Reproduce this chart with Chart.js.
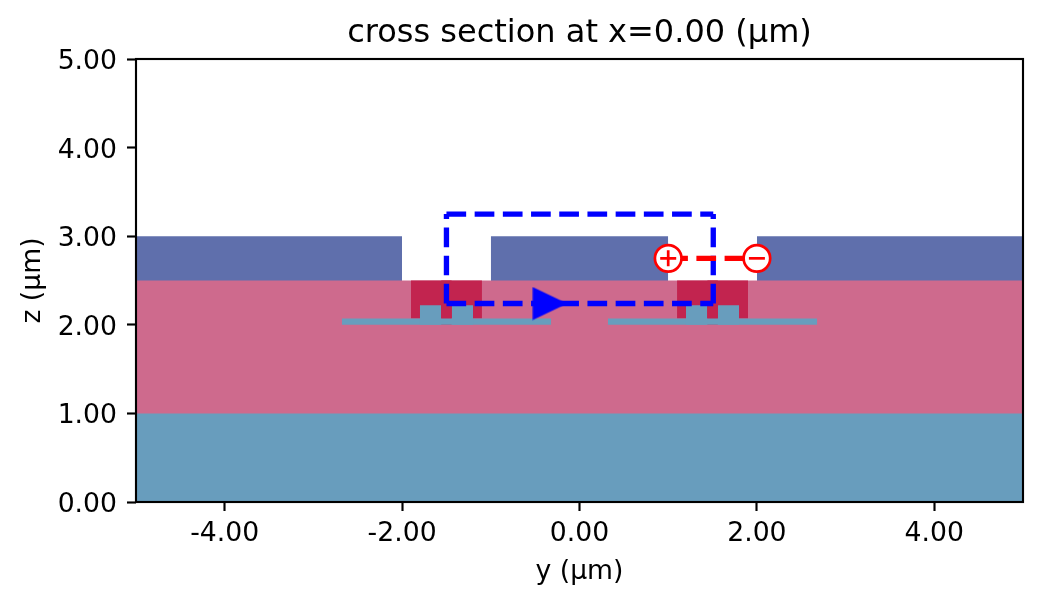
<!DOCTYPE html>
<html><head><meta charset="utf-8">
<style>html,body{margin:0;padding:0;background:#fff}#w{width:1042px;height:605px;position:relative}</style>
<script src="https://cdn.jsdelivr.net/npm/chart.js@4"></script></head>
<body><div id="w"><canvas id="c" width="1042" height="605"></canvas></div>
<script>
const xTickValues=[-4,-2,0,2,4];
const yTickValues=[0,1,2,3,4,5];
// rectangles: [y0,y1,z0,z1]
const substrate=[[-5,5,0,1]];
const cladding=[[-5,5,0.9,2.5]];
const topLayer=[[-5,-2,2.4,3],[-1,1,2.4,3],[2,5,2.4,3]];
const crimsonBody=[[-1.9,-1.1,2.07,2.5],[-1.56,-1.44,2,2.5],[1.1,1.9,2.07,2.5],[1.44,1.56,2,2.5]];
const slabs=[[-2.68,-0.32,2,2.07],[0.32,2.68,2,2.07]];
const ribs=[[-1.8,-1.56,2,2.22],[-1.44,-1.2,2,2.22],[1.2,1.44,2,2.22],[1.56,1.8,2,2.22]];
const currentPaths=[
 [[-1.5,2.24],[1.508,2.24]],
 [[1.508,2.24],[1.508,3.25]],
 [[-1.5,3.25],[1.508,3.25]],
 [[-1.5,2.24],[-1.5,3.25]]];
const currentArrow=[[-0.33,2.24]];
const voltagePath=[[1,2.75],[2,2.75]];
const plusPoint=[[1,2.75]];
const minusPoint=[[2,2.75]];
const colors={teal:'#689DBD',pink:'#CE6A8D',blue:'#5F6FAC',crimson:'#C2244F'};

function rectSets(list,color){
  return list.map(r=>({data:[{x:r[0],y:r[3]},{x:r[1],y:r[3]}],showLine:true,borderWidth:0,pointRadius:0,
    backgroundColor:color,fill:{value:r[2]},tension:0}));
}
const arrowCanvas=document.createElement('canvas');
arrowCanvas.width=36;arrowCanvas.height=34;
{const g=arrowCanvas.getContext('2d');g.fillStyle='#0000ff';g.beginPath();g.moveTo(0.5,0.5);g.lineTo(35,17);g.lineTo(0.5,33.5);g.closePath();g.fill();}

const datasets=[
 {data:plusPoint.map(p=>({x:p[0],y:p[1]})),pointStyle:'cross',pointRadius:8,pointBorderColor:'#ff0000',pointBorderWidth:2.7,showLine:false,clip:false},
 {data:minusPoint.map(p=>({x:p[0],y:p[1]})),pointStyle:'line',pointRadius:8,pointBorderColor:'#ff0000',pointBorderWidth:2.7,showLine:false,clip:false},
 {data:plusPoint.concat(minusPoint).map(p=>({x:p[0],y:p[1]})),pointStyle:'circle',pointRadius:13.3,pointBackgroundColor:'#fff',pointBorderColor:'#ff0000',pointBorderWidth:2.7,showLine:false,clip:false},
 {data:voltagePath.map(p=>({x:p[0],y:p[1]})),showLine:true,borderColor:'#ff0000',borderWidth:5.33,borderDash:[19.7,8.5],pointRadius:0,tension:0,clip:false},
 {data:currentArrow.map(p=>({x:p[0],y:p[1]})),pointStyle:arrowCanvas,pointRadius:17,showLine:false,clip:false},
 ...currentPaths.map(path=>({data:path.map(p=>({x:p[0],y:p[1]})),showLine:true,borderColor:'#0000ff',borderWidth:5.33,borderDash:[19.7,8.5],pointRadius:0,tension:0,clip:false})),
 ...rectSets(ribs,colors.teal),
 ...rectSets(slabs,colors.teal),
 ...rectSets(crimsonBody,colors.crimson),
 ...rectSets(substrate,colors.teal),
 ...rectSets(cladding,colors.pink),
 ...rectSets(topLayer,colors.blue)
];
const frame={id:'frame',afterDatasetsDraw(ch){const a=ch.chartArea,g=ch.ctx;g.save();g.strokeStyle='#000';g.lineWidth=2.13;g.strokeRect(a.left,a.top,a.right-a.left,a.bottom-a.top);g.restore();}};
const FONT="'DejaVu Sans'";
new Chart(document.getElementById('c'),{
 type:'scatter',
 data:{datasets},
 plugins:[frame],
 options:{
  responsive:false,animation:false,devicePixelRatio:1,
  layout:{padding:{left:0,right:19,top:0,bottom:0}},
  plugins:{legend:{display:false},tooltip:{enabled:false},
   title:{display:true,fullSize:false,text:'cross section at x=0.00 (μm)',color:'#000',font:{family:FONT,size:32,weight:'normal'},padding:{top:14,bottom:6.6}}},
  scales:{
   x:{type:'linear',min:-5,max:5,afterFit(s){s.height=103;},
    afterBuildTicks(s){s.ticks=xTickValues.map(v=>({value:v}));},
    grid:{drawOnChartArea:false,drawTicks:true,tickLength:9,tickColor:'#000',tickWidth:2.13},
    border:{display:false},
    ticks:{color:'#000',maxRotation:0,autoSkip:false,padding:7,font:{family:FONT,size:26.67},callback:v=>Number(v).toFixed(2)},
    title:{display:true,text:'y (μm)',color:'#000',font:{family:FONT,size:26.67},padding:{top:0,bottom:17}}},
   y:{type:'linear',min:0,max:5,afterFit(s){s.width=136;},
    afterBuildTicks(s){s.ticks=yTickValues.map(v=>({value:v}));},
    grid:{drawOnChartArea:false,drawTicks:true,tickLength:9,tickColor:'#000',tickWidth:2.13},
    border:{display:false},
    ticks:{color:'#000',autoSkip:false,padding:10,labelOffset:3,font:{family:FONT,size:26.67},callback:v=>Number(v).toFixed(2)},
    title:{display:true,text:'z (μm)',color:'#000',font:{family:FONT,size:26.67},padding:{top:17,bottom:0}}}
  }
 }
});
</script></body></html>
